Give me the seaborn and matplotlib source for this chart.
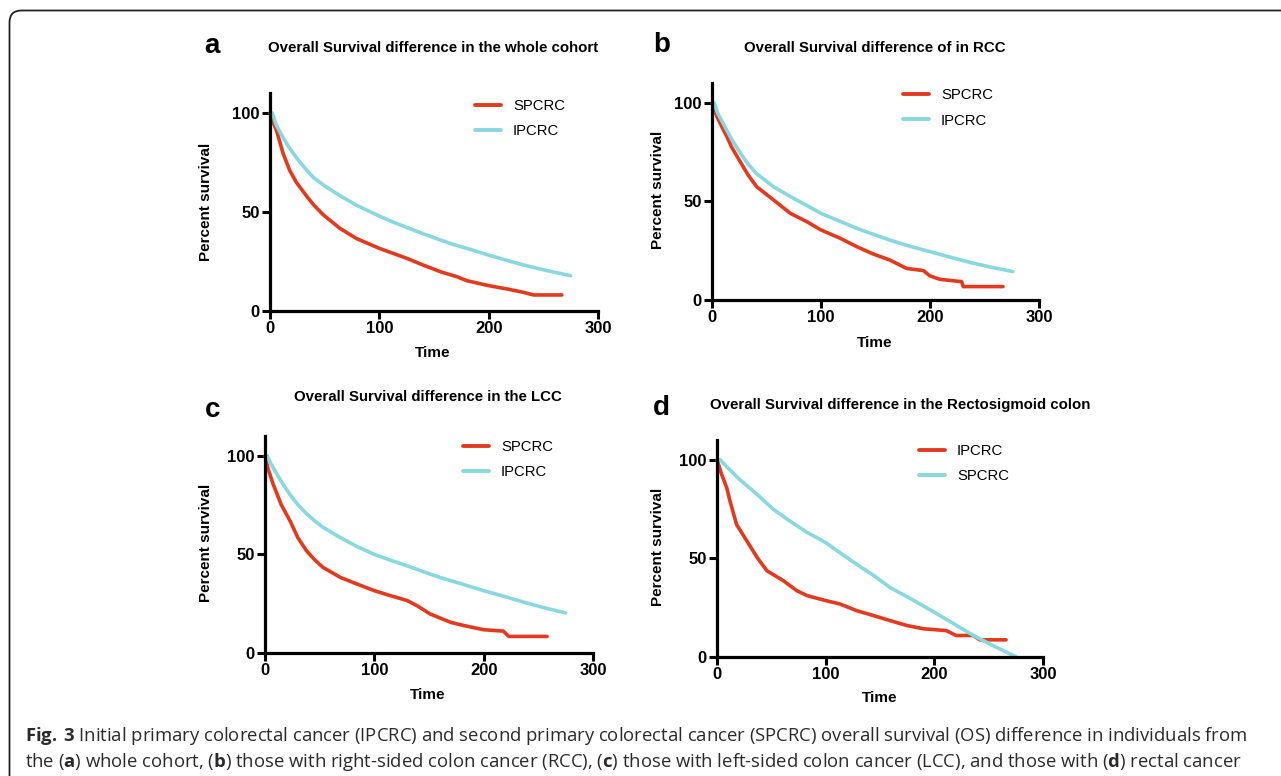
import numpy as np
import pandas as pd
import matplotlib
matplotlib.use("Agg")
import matplotlib.pyplot as plt
import seaborn as sns
from matplotlib.patches import FancyBboxPatch
from matplotlib import font_manager

# ---------------- data ----------------
# Panel a: whole cohort
a_sp_t = [0, 3, 6, 12, 18, 24, 34, 40, 49, 64, 79, 100, 125, 140, 156, 171, 180, 200, 217, 232, 241, 267]
a_sp_s = [100, 95, 91, 79.5, 71, 65, 57.6, 53.5, 48.4, 41.7, 36.6, 31.6, 26.6, 23.2, 19.8, 17.3, 15.3, 12.8, 11.1, 9.4, 8.1, 8.1]
a_ip_t = [2, 6, 12, 18, 27.5, 34, 40, 49, 64, 79, 90, 100, 112, 125, 140, 156, 168, 180, 200, 215, 232, 250, 275]
a_ip_s = [100, 93.5, 87.5, 82, 75, 70.8, 67.2, 63.5, 58.2, 53.4, 50.5, 47.9, 45, 42.2, 39, 35.8, 33.5, 31.6, 28.2, 25.8, 23.2, 20.8, 17.8]

# Panel b: RCC
b_sp_t = [0, 4.6, 10.7, 13.7, 18, 26, 33, 41, 56.5, 72, 87, 100, 117.6, 133, 148, 163, 172.5, 178.6, 194, 200, 209, 229, 230.5, 267]
b_sp_s = [100, 92.9, 86, 82.8, 77.5, 70, 63.5, 57.4, 50.7, 43.9, 39.7, 35.5, 31.3, 27, 23.3, 20.3, 17.7, 16, 14.9, 12.2, 10.5, 9.3, 6.8, 6.8]
b_ip_t = [2, 5, 10.7, 18, 26, 33, 41, 56.5, 72, 85, 100, 117, 133, 148, 163, 180, 200, 220, 240, 258, 276]
b_ip_s = [100, 95, 89, 81.5, 74.5, 69, 64, 57.4, 52.4, 48.5, 43.9, 40, 36.3, 33.3, 30.4, 27.5, 24.5, 21.5, 18.6, 16.4, 14.4]

# Panel c: LCC
c_sp_t = [0, 3, 7.6, 15, 23, 30, 38, 45, 53, 69, 84, 100, 114.5, 130, 139, 151, 169.5, 182, 200, 218, 223, 258]
c_sp_s = [100, 93, 85.4, 75, 66.9, 58.5, 51.8, 47.5, 43.4, 38.3, 35, 31.6, 29.1, 26.6, 24, 19.8, 15.6, 13.9, 11.8, 11.1, 8.4, 8.4]
c_ip_t = [2, 5, 10, 16, 23, 30, 38, 45, 53, 69, 84, 100, 115, 130, 145, 160, 180, 200, 220, 237, 255, 275]
c_ip_s = [100, 96.3, 91.5, 86, 80.2, 75.2, 70.6, 67.2, 63.7, 58.5, 54, 50, 47, 44.2, 41.2, 38.3, 35, 31.6, 28.5, 25.7, 23, 20.3]

# Panel d: Rectosigmoid colon (legend order: IPCRC red, SPCRC cyan)
d_ip_t = [0, 4, 9, 12, 18, 27.5, 37, 46, 61, 73.5, 83, 100, 113, 128.5, 144, 159, 174.5, 190, 211, 220, 235.7, 242, 266]
d_ip_s = [100, 93, 85.7, 79, 67.2, 58.8, 50.4, 43.7, 38.7, 33.6, 31.1, 28.6, 26.9, 23.5, 21, 18.5, 16, 14.3, 13.4, 10.9, 10.9, 8.7, 8.7]
d_sp_t = [3, 9.2, 21, 37, 52, 67, 82, 100, 114, 128.5, 145, 159, 180, 200, 218, 236, 255, 275.5]
d_sp_s = [100, 96.3, 89.9, 82.4, 74.8, 68.9, 63.5, 58, 52.5, 47, 41, 35.3, 29, 22.7, 16.8, 10.9, 5.5, 0]

letters = ["a", "b", "c", "d"]
titles = ["Overall Survival difference in the whole cohort",
          "Overall Survival difference of in RCC",
          "Overall Survival difference in the LCC",
          "Overall Survival difference in the Rectosigmoid colon"]
x_ticks = [0, 100, 200, 300]
y_ticks = [0, 50, 100]

RED = "#e5391d"
CYAN = "#88d8e0"

panels = [
    [("SPCRC", a_sp_t, a_sp_s, RED), ("IPCRC", a_ip_t, a_ip_s, CYAN)],
    [("SPCRC", b_sp_t, b_sp_s, RED), ("IPCRC", b_ip_t, b_ip_s, CYAN)],
    [("SPCRC", c_sp_t, c_sp_s, RED), ("IPCRC", c_ip_t, c_ip_s, CYAN)],
    [("IPCRC", d_ip_t, d_ip_s, RED), ("SPCRC", d_sp_t, d_sp_s, CYAN)],
]

# ---------------- layout (pixel geometry) ----------------
W, H = 1281, 776
sns.set_style("ticks")
plt.rcParams["font.family"] = ["Liberation Sans", "DejaVu Sans"]
for k in ["text.color", "axes.labelcolor", "xtick.color", "ytick.color", "axes.edgecolor"]:
    plt.rcParams[k] = "black"

fig = plt.figure(figsize=(W / 100, H / 100), dpi=100)

# axes boxes: left, right, bottom(y=0), top(y=110) in pixels
boxes = [(270, 598, 311, 93), (712, 1039, 300, 83), (265, 593, 653, 436), (717, 1043, 657, 440)]
legend_anchor = [(0.625, 0.972), (0.584, 0.975), (0.604, 0.98), (0.62, 0.98)]
title_pos = [(433, 48), (875, 48), (428, 397), (900, 405)]
letter_pos = [(204, 46), (653, 45), (205, 410), (653, 408)]
ylabel_pos = [(206, 202), (658, 190), (206, 543), (658, 547)]
xlabel_pos = [(433, 353), (875, 343), (428, 695), (880, 698)]


def fx(x):
    return x / W


def fy(y):
    return 1 - y / H


for i, series in enumerate(panels):
    l, r, b, t = boxes[i]
    ax = fig.add_axes([fx(l), fy(b), (r - l) / W, (b - t) / H])
    rows = []
    for name, tt, ss, col in series:
        for a_, b_ in zip(tt, ss):
            rows.append({"Time": a_, "Percent survival": b_, "Group": name})
    df = pd.DataFrame(rows)
    order = [s[0] for s in series]
    pal = {s[0]: s[3] for s in series}
    sns.lineplot(data=df, x="Time", y="Percent survival", hue="Group", hue_order=order,
                 palette=pal, sort=False, estimator=None, ax=ax, legend=False,
                 linewidth=2.6)
    for ln in ax.lines:
        ln.set_clip_on(False)
        ln.set_solid_joinstyle("round")
        ln.set_solid_capstyle("round")
    ax.set_xlim(0, 300)
    ax.set_ylim(0, 110)
    ax.set_xticks(x_ticks)
    ax.set_yticks(y_ticks)
    ax.set_xticklabels([str(v) for v in x_ticks], fontsize=12, fontweight="bold")
    ax.set_yticklabels([str(v) for v in y_ticks], fontsize=12, fontweight="bold")
    ax.tick_params(direction="out", length=6, width=2.2, color="black", pad=1.5)
    for sp in ["left", "bottom"]:
        ax.spines[sp].set_linewidth(2.3)
        ax.spines[sp].set_color("black")
    sns.despine(ax=ax)
    ax.set_xlabel("")
    ax.set_ylabel("")
    ax.patch.set_alpha(0)
    handles = ax.lines[:2]
    leg = ax.legend(handles, order, loc="upper left", bbox_to_anchor=legend_anchor[i],
                    frameon=False, fontsize=10.7, handlelength=1.75, handletextpad=0.8,
                    labelspacing=0.75, borderpad=0, borderaxespad=0)
    for lh in leg.get_lines():
        lh.set_linewidth(2.8)
    for tx in leg.get_texts():
        tx.set_color("black")

    fig.text(fx(title_pos[i][0]), fy(title_pos[i][1]), titles[i], ha="center", va="center",
             fontsize=10.8, fontweight="bold")
    fig.text(fx(letter_pos[i][0]), fy(letter_pos[i][1]), letters[i], ha="left", va="center",
             fontsize=20, fontweight="bold")
    fig.text(fx(ylabel_pos[i][0]), fy(ylabel_pos[i][1]), "Percent survival", ha="center",
             va="center", rotation=90, fontsize=11, fontweight="bold")
    fig.text(fx(xlabel_pos[i][0]), fy(xlabel_pos[i][1]), "Time", ha="center", va="center",
             fontsize=11, fontweight="bold")

# ---------------- frame ----------------
frame = FancyBboxPatch((9.5, -30), 1400, H - 10 + 30 - 0.5,
                       boxstyle="round,pad=0,rounding_size=12",
                       transform=None, fill=False, edgecolor="#222222", linewidth=1.3)
fig.patches.append(frame)

# ---------------- caption ----------------
names = {f.name for f in font_manager.fontManager.ttflist}
cap_font = "Open Sans" if "Open Sans" in names else "DejaVu Sans"
plt.rcParams["mathtext.fontset"] = "custom"
plt.rcParams["mathtext.rm"] = cap_font
plt.rcParams["mathtext.bf"] = cap_font + ":bold"

line1 = (r"$\mathbf{Fig.}$$\mathbf{\,3}$ Initial primary colorectal cancer (IPCRC) and second primary colorectal "
         r"cancer (SPCRC) overall survival (OS) difference in individuals from")
line2 = (r"the ($\mathbf{a}$) whole cohort, ($\mathbf{b}$) those with right-sided colon cancer (RCC), "
         r"($\mathbf{c}$) those with left-sided colon cancer (LCC), and those with ($\mathbf{d}$) rectal cancer")

t1 = fig.text(fx(25), fy(741), line1, ha="left", va="baseline", fontsize=11,
              family=cap_font, color="#2b2b2b")
renderer = fig.canvas.get_renderer()
w1 = t1.get_window_extent(renderer).width
size = 11 * 1220 / w1
t1.set_fontsize(size)
t2 = fig.text(fx(25), fy(767), line2, ha="left", va="baseline", fontsize=size,
              family=cap_font, color="#2b2b2b")

fig.savefig("out.png", dpi=100)
